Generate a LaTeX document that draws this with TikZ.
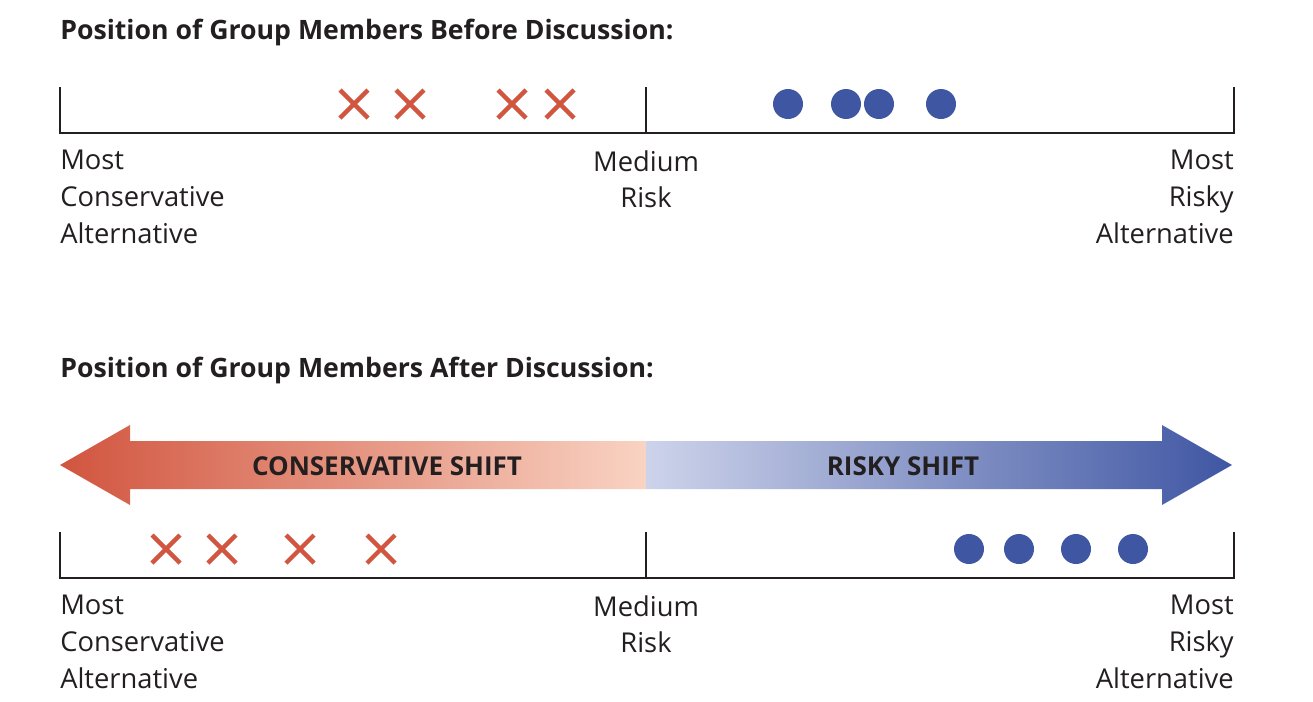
\documentclass[tikz,border=0pt]{standalone}
\usepackage{fontspec}
\setmainfont{Open Sans}
\definecolor{xred}{HTML}{D1553F}
\definecolor{dblue}{HTML}{3F56A3}
\definecolor{peach}{HTML}{F9D3C3}
\definecolor{pblue}{HTML}{CDD3EA}
\definecolor{axis}{HTML}{231F20}
\tikzset{
 title/.style={anchor=west,font=\fontsize{20}{22}\selectfont\bfseries,text=axis,inner sep=0},
 lab/.style={font=\fontsize{20.5}{27.5}\selectfont,text=axis,inner sep=0,anchor=north west,align=left},
 axisline/.style={line width=2.2pt,draw=axis},
 cross/.style={line width=3.2pt,draw=xred},
 dot/.style={fill=dblue},
 shiftlabel/.style={font=\fontsize{19.5}{22}\selectfont\bfseries,text=axis}
}
\newcommand{\xmark}[2]{\draw[cross] (#1-14,#2-14)--(#1+14,#2+14) (#1-14,#2+14)--(#1+14,#2-14);}
\newcommand{\axisat}[1]{\draw[axisline] (60,#1-46)--(60,#1)--(1234,#1)--(1234,#1-46) (646,#1)--(646,#1-46);}
\begin{document}
\begin{tikzpicture}[x=0.75pt,y=-0.75pt]
\useasboundingbox (0,0) rectangle (1313,701);
\node[title] (t1) at (60,32) {Position of Group Members Before Discussion:};
\axisat{133}
\foreach \x in {354,410,512,560}{\xmark{\x}{104}}
\foreach \x in {788,846,879,941}{\fill[dot] (\x,104) circle[radius=15];}
\node[lab] (l1) at (60,150) {Most\\Conservative\\Alternative};
\node[lab,anchor=north,align=center] (m1) at (646,150) {Medium\\Risk};
\node[lab,anchor=north east,align=right] (r1) at (1234,150) {Most\\Risky\\Alternative};

\node[title] (t2) at (60,370) {Position of Group Members After Discussion:};
\shade[left color=xred,right color=peach] (60,465)--(130,425)--(130,441)--(646,441)--(646,489)--(130,489)--(130,505)--cycle;
\shade[left color=pblue,right color=dblue] (646,441)--(1162,441)--(1162,425)--(1232,465)--(1162,505)--(1162,489)--(646,489)--cycle;
\node[shiftlabel] (cs) at (387,466) {CONSERVATIVE SHIFT};
\node[shiftlabel] (rs) at (903,466) {RISKY SHIFT};
\axisat{578}
\foreach \x in {166,222,300,381}{\xmark{\x}{549}}
\foreach \x in {969,1019,1076,1133}{\fill[dot] (\x,549) circle[radius=15];}
\node[lab] (l2) at (60,595) {Most\\Conservative\\Alternative};
\node[lab,anchor=north,align=center] (m2) at (646,595) {Medium\\Risk};
\node[lab,anchor=north east,align=right] (r2) at (1234,595) {Most\\Risky\\Alternative};
\end{tikzpicture}
\end{document}
